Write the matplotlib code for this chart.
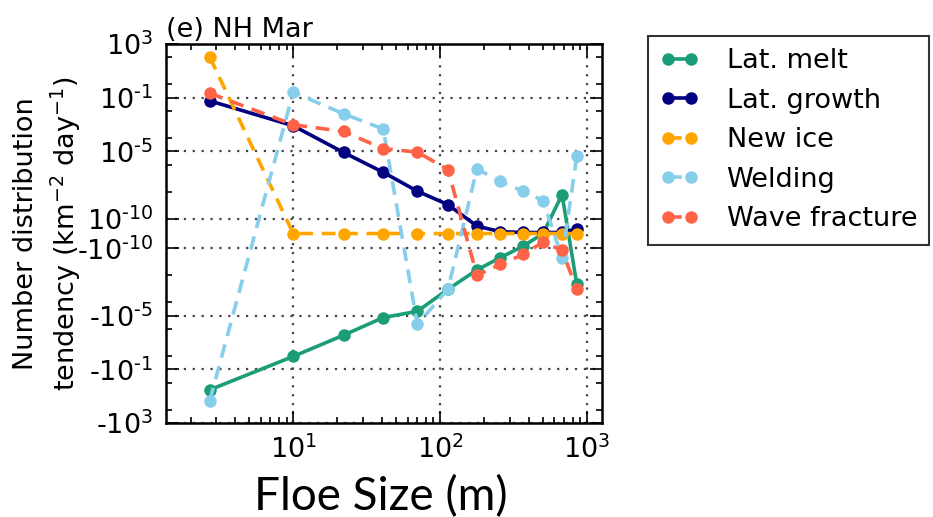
import numpy as np
import matplotlib
matplotlib.use('Agg')
import matplotlib.pyplot as plt
from matplotlib.ticker import FixedLocator, LogLocator, NullFormatter

# floe size categories (m) and tendency terms (km^-2 day^-1)
floe_size = [2.7, 10, 22, 41, 70, 113, 178, 256, 367, 502, 676, 852]
lat_melt = [-3.4, -1.1e-2, -2.9e-4, -1.4e-5, -4.8e-6, -1.1e-7,
            -4.0e-9, -4.9e-10, -8.5e-11, 0.0, 6.1e-9, -4.8e-8]
lat_growth = [5.9e-2, 8.2e-4, 8.5e-6, 2.8e-7, 1.1e-8, 1.1e-9,
              5.0e-11, 1.3e-11, 0.7e-11, 0.7e-11, 0.7e-11, 3.1e-11]
new_ice = [1.1e2, 0, 0, 0, 0, 0, 0, 0, 0, 0, 0, 0]
welding = [-22.5, 0.26, 6.4e-3, 4.7e-4, -4.5e-5, -1.1e-7,
           5.0e-7, 5.9e-8, 1.07e-8, 2.2e-9, -4.9e-10, 4.4e-6]
wave_fracture = [0.22, 9.8e-4, 3.1e-4, 1.6e-5, 9.1e-6, 4.4e-7,
                 -1.0e-8, -1.55e-9, -2.8e-10, -5.8e-11, -1.4e-10, -1.1e-7]

series_names = ['Lat. melt', 'Lat. growth', 'New ice', 'Welding', 'Wave fracture']
series_colors = ['#1b9e77', '#000080', '#ffa500', '#87ceeb', '#ff6347']
series_styles = ['-', '-', '--', '--', '--']

ytick_vals = [1e3, 1e-1, 1e-5, 1e-10, -1e-10, -1e-5, -1e-1, -1e3]
ytick_exps = ['3', '\u20101', '\u20105', '\u201010', '\u201010', '\u20105', '\u20101', '3']
yminor_vals = [s * 10.0 ** e for s in (1, -1) for e in (2, 0, -2, -4, -6, -8)]

fs = 19.5
plt.rcParams['font.family'] = 'DejaVu Sans'
plt.rcParams['font.size'] = fs
plt.rcParams['axes.unicode_minus'] = False

fig = plt.figure(figsize=(9.33, 5.17), dpi=100)
ax = fig.add_axes([0.1776, 0.1818, 0.468, 0.733])

all_series = [lat_melt, lat_growth, new_ice, welding, wave_fracture]
for vals, name, col, ls in zip(all_series, series_names, series_colors, series_styles):
    line, = ax.plot(floe_size, vals, ls, color=col, lw=2.6, marker='o',
                    markersize=9, markeredgewidth=0, label=name)
    if ls == '--':
        line.set_dashes((3.8, 2.4))

ax.set_xscale('log')
ax.set_yscale('symlog', linthresh=1e-10, linscale=1)
ax.set_xlim(1.355, 1271)
ax.set_ylim(-1e3, 1e3)

# tick labels with short hyphen signs
ytick_labels = []
for v, e in zip(ytick_vals, ytick_exps):
    sign = '-' if v < 0 else ''
    ytick_labels.append(sign + r'$\mathdefault{10^{' + e + '}}$')

ax.yaxis.set_major_locator(FixedLocator(ytick_vals))
ax.set_yticklabels(ytick_labels)
ax.yaxis.set_minor_locator(FixedLocator(yminor_vals))
ax.yaxis.set_minor_formatter(NullFormatter())
ax.xaxis.set_major_locator(LogLocator(base=10, numticks=10))
ax.xaxis.set_minor_locator(LogLocator(base=10, subs=np.arange(2, 10), numticks=20))
ax.xaxis.set_minor_formatter(NullFormatter())

ax.tick_params(which='both', direction='in', top=True, right=True,
               labelsize=fs, width=1.2)
ax.tick_params(which='major', length=9, pad=9)
ax.tick_params(which='minor', length=4.5)
for sp in ax.spines.values():
    sp.set_linewidth(1.8)

ax.grid(True, which='major', color='#444444', linestyle=(0, (1, 3)), lw=1.6)

ax.set_title('(e) NH Mar', loc='left', fontsize=fs, pad=5)
ax.set_ylabel('Number distribution\ntendency (km$^{-2}$ day$^{-1}$)',
              fontsize=fs, linespacing=1.35)
ax.yaxis.set_label_coords(-0.19, 0.5)

fig.text(381 / 933, 0.0135, 'Floe Size (m)', family='Lato', fontsize=33,
         ha='center', va='baseline')

leg = fig.legend(loc='upper left', bbox_to_anchor=(648 / 933, 1 - 36 / 517),
                 fontsize=fs, numpoints=2, handlelength=1.45, handletextpad=1.0,
                 borderpad=0.45, labelspacing=0.5, borderaxespad=0,
                 fancybox=False, framealpha=1)
leg.get_frame().set_edgecolor('#333333')
leg.get_frame().set_linewidth(1.5)

fig.savefig('out.png', dpi=100)
